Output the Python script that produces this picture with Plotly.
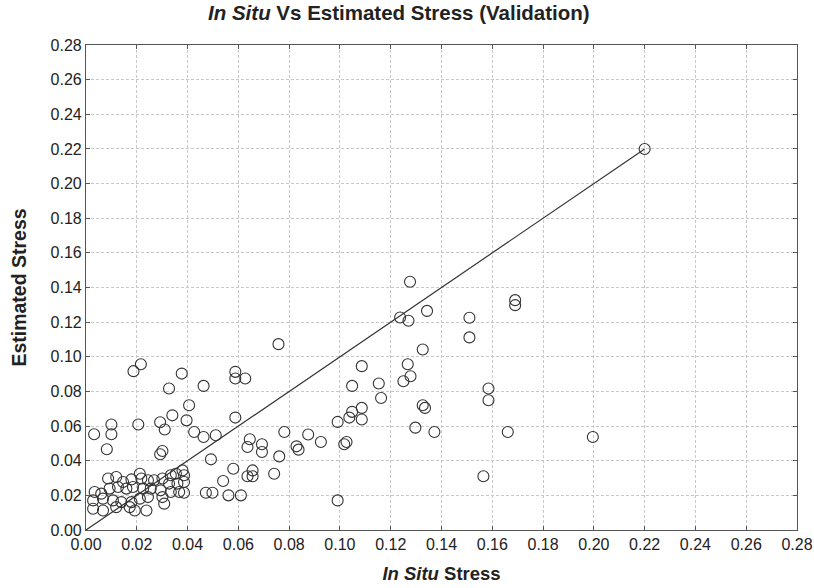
import plotly.graph_objects as go

in_situ = [
    0.0187, 0.0216, 0.0377, 0.0327, 0.0463, 0.0406, 0.0340, 0.0396, 0.0100, 0.0206,
    0.0292, 0.0310, 0.0032, 0.0100, 0.0426, 0.0463, 0.0082, 0.0301, 0.0292, 0.0492,
    0.0087, 0.0119, 0.0146, 0.0179, 0.0212, 0.0218, 0.0244,
    0.0034, 0.0060, 0.0093, 0.0126, 0.0159, 0.0185, 0.0225,
    0.0028, 0.0067, 0.0106, 0.0139, 0.0179, 0.0212, 0.0244,
    0.0028, 0.0067, 0.0119, 0.0172, 0.0192, 0.0238,
    0.0268, 0.0301, 0.0334, 0.0354, 0.0380, 0.0386, 0.0327, 0.0360, 0.0386, 0.0255,
    0.0294, 0.0334, 0.0367, 0.0386, 0.0301, 0.0308, 0.0472, 0.0498,
    0.0758, 0.0588, 0.0588, 0.0627, 0.0588, 0.0511, 0.0645, 0.0636, 0.0693, 0.0693,
    0.0781, 0.0875, 0.0925, 0.0829, 0.0837, 0.0761, 0.0580, 0.0656, 0.0636, 0.0656,
    0.0741, 0.0540, 0.0561, 0.0610, 0.0991, 0.0991,
    0.1326, 0.1086, 0.1267, 0.1278, 0.1250, 0.1048, 0.1153, 0.1162, 0.1086, 0.1048,
    0.1037, 0.1086, 0.1326, 0.1335, 0.1297, 0.1372, 0.1026, 0.1017,
    0.1690, 0.1690, 0.1510, 0.1510, 0.1585, 0.1585, 0.1661, 0.1996, 0.1565,
    0.1276, 0.1237, 0.1270, 0.1343,
    0.2200,
]
estimated = [
    0.0917, 0.0957, 0.0903, 0.0817, 0.0832, 0.0720, 0.0662, 0.0633, 0.0609, 0.0609,
    0.0622, 0.0580, 0.0553, 0.0553, 0.0566, 0.0537, 0.0466, 0.0456, 0.0437, 0.0408,
    0.0297, 0.0306, 0.0277, 0.0292, 0.0325, 0.0297, 0.0287,
    0.0219, 0.0210, 0.0239, 0.0248, 0.0239, 0.0248, 0.0239,
    0.0171, 0.0181, 0.0171, 0.0161, 0.0161, 0.0181, 0.0190,
    0.0123, 0.0113, 0.0132, 0.0132, 0.0113, 0.0113,
    0.0287, 0.0297, 0.0316, 0.0325, 0.0344, 0.0316, 0.0268, 0.0268, 0.0277, 0.0239,
    0.0229, 0.0219, 0.0219, 0.0215, 0.0190, 0.0152, 0.0215, 0.0215,
    0.1073, 0.0913, 0.0875, 0.0875, 0.0649, 0.0547, 0.0524, 0.0479, 0.0495, 0.0450,
    0.0566, 0.0551, 0.0508, 0.0483, 0.0464, 0.0425, 0.0354, 0.0344, 0.0310, 0.0310,
    0.0325, 0.0283, 0.0200, 0.0200, 0.0171, 0.0624,
    0.1042, 0.0946, 0.0957, 0.0888, 0.0859, 0.0832, 0.0846, 0.0762, 0.0705, 0.0682,
    0.0649, 0.0638, 0.0720, 0.0705, 0.0591, 0.0566, 0.0508, 0.0495,
    0.1327, 0.1298, 0.1225, 0.1112, 0.0817, 0.0749, 0.0566, 0.0537, 0.0310,
    0.1433, 0.1227, 0.1208, 0.1265,
    0.2200,
]
line_x = [0.0, 0.22]
line_y = [0.0, 0.22]
tick_vals = [round(i * 0.02, 2) for i in range(15)]
tick_text = ["%.2f" % v for v in tick_vals]

FONT = "Liberation Sans, Arial, sans-serif"

fig = go.Figure()
fig.add_trace(go.Scatter(x=line_x, y=line_y, mode="lines",
                         line=dict(color="#333333", width=1.2), showlegend=False,
                         hoverinfo="skip"))
fig.add_trace(go.Scatter(x=in_situ, y=estimated, mode="markers",
                         marker=dict(symbol="circle-open", size=11, color="#333333",
                                     line=dict(width=1.1)),
                         showlegend=False))

axis_common = dict(
    range=[0, 0.28], tickvals=tick_vals, ticktext=tick_text,
    showgrid=True, gridcolor="#c8c8c8", griddash="3px,2px", gridwidth=1,
    showline=True, linecolor="#555555", linewidth=1.2, mirror="ticks",
    ticks="inside", ticklen=4, tickcolor="#555555",
    zeroline=False, automargin=False,
    tickfont=dict(family=FONT, size=16, color="#222222"),
)

fig.update_layout(
    width=814, height=588,
    margin=dict(l=86, r=17, t=45, b=58),
    paper_bgcolor="white", plot_bgcolor="white",
    title=dict(text="<b><i>In Situ</i> Vs Estimated Stress (Validation)</b>",
               x=0.49, xref="container", xanchor="center", y=0.978, yanchor="middle",
               font=dict(family=FONT, size=20.5, color="#222222")),
    xaxis=dict(axis_common, title=dict(text="<b><i>In Situ</i> Stress</b>", standoff=14,
               font=dict(family=FONT, size=18.5, color="#222222"))),
    yaxis=dict(axis_common, title=dict(text="<b>Estimated Stress</b>", standoff=18,
               font=dict(family=FONT, size=19.5, color="#222222"))),
)

fig.write_html("out.html", config={"displayModeBar": False},
               post_script="document.body.style.margin='0';document.body.style.overflow='hidden';")
